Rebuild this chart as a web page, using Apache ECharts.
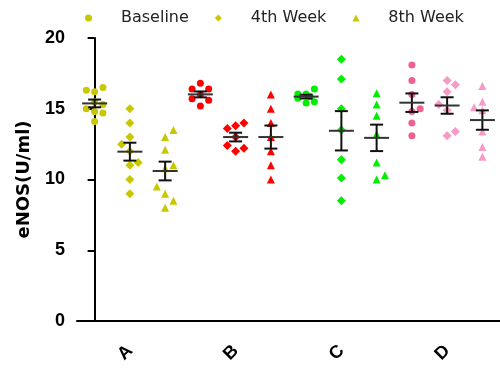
<!DOCTYPE html>
<html>
<head>
<meta charset="utf-8">
<script src="https://cdn.jsdelivr.net/npm/echarts@6/dist/echarts.min.js"></script>
<style>
  html, body { margin: 0; padding: 0; background: #fff; }
  #chart { width: 500px; height: 368px; }
</style>
</head>
<body>
<div id="chart"></div>
<script>
const groups = ["A", "B", "C", "D"];
const times = ["Baseline", "4th Week", "8th Week"];
const yTicks = [0, 5, 10, 15, 20];

// eNOS (U/ml) per animal; *Col = jitter column (-1 left, 0 centre, 1 right)
const aBaseline = [16.3, 16.2, 16.5, 15.5, 15.0, 14.8, 15.3, 14.7, 14.1];
const aBaselineCol = [-1, 0, 1, 0, -1, 0, 1, 1, 0];
const a4th = [15.0, 14.0, 13.0, 12.5, 12.0, 11.2, 11.0, 10.0, 9.0];
const a4thCol = [0, 0, 0, -1, 0, 1, 0, 0, 0];
const a8th = [13.5, 13.0, 12.1, 11.0, 10.8, 9.5, 9.0, 8.5, 8.0];
const a8thCol = [1, 0, 0, 1, 0, -1, 0, 1, 0];

const bBaseline = [16.8, 16.4, 16.4, 16.0, 15.7, 15.6, 15.2];
const bBaselineCol = [0, -1, 1, 0, -1, 1, 0];
const b4th = [14.0, 13.8, 13.6, 13.0, 12.4, 12.2, 12.0];
const b4thCol = [1, 0, -1, 0, -1, 1, 0];
const b8th = [16.0, 15.0, 14.0, 13.0, 12.0, 11.0, 10.0];
const b8thCol = [0, 0, 0, 0, 0, 0, 0];

const cBaseline = [16.4, 16.05, 16.05, 15.85, 15.75, 15.5, 15.4];
const cBaselineCol = [1, -1, 0, 0.5, -1, 1, 0];
const c4th = [18.5, 17.1, 15.0, 13.5, 11.4, 10.1, 8.5];
const c4thCol = [0, 0, 0, 0, 0, 0, 0];
const c8th = [16.1, 15.3, 14.5, 13.2, 11.2, 10.3, 10.0];
const c8thCol = [0, 0, 0, 0, 0, 1, 0];

const dBaseline = [18.1, 17.0, 16.0, 15.0, 14.8, 14.0, 13.1];
const dBaselineCol = [0, 0, 0, 1, 0, 0, 0];
const d4th = [17.0, 16.7, 16.2, 15.3, 14.9, 13.4, 13.1];
const d4thCol = [0, 1, 0, -1, 0, 1, 0];
const d8th = [16.6, 15.5, 15.1, 14.9, 13.4, 12.3, 11.6];
const d8thCol = [0, 0, -1, 0, 0, 0, 0];

const values = [
  [aBaseline, a4th, a8th],
  [bBaseline, b4th, b8th],
  [cBaseline, c4th, c8th],
  [dBaseline, d4th, d8th],
];
const cols = [
  [aBaselineCol, a4thCol, a8thCol],
  [bBaselineCol, b4thCol, b8thCol],
  [cBaselineCol, c4thCol, c8thCol],
  [dBaselineCol, d4thCol, d8thCol],
];
const colors = [
  ["#c8c800", "#c8c800", "#c8c800"],
  ["#ff0000", "#ff0000", "#ff0000"],
  ["#00ee00", "#00ee00", "#00ee00"],
  ["#f0628e", "#f79ac6", "#f79ac6"],
];
const symbols = ["circle", "diamond", "triangle"];
const symbolSizes = [7, 9, 8];
const jitter = 0.235;

const slots = groups.flatMap((g) => times.map(() => g));

function meanSem(arr) {
  const n = arr.length;
  const mean = arr.reduce((s, v) => s + v, 0) / n;
  const sd = Math.sqrt(arr.reduce((s, v) => s + (v - mean) ** 2, 0) / (n - 1));
  return [mean, sd / Math.sqrt(n)];
}

const scatterSeries = times.map((name, t) => ({
  name,
  type: "scatter",
  xAxisIndex: 1,
  symbol: symbols[t],
  symbolSize: symbolSizes[t],
  itemStyle: { color: colors[0][t], opacity: 1 },
  z: 2,
  data: groups.flatMap((g, gi) =>
    values[gi][t].map((v, k) => ({
      value: [gi * 3 + t + cols[gi][t][k] * jitter, v],
      itemStyle: { color: colors[gi][t] },
    }))
  ),
}));

const errorData = groups.flatMap((g, gi) =>
  times.map((name, t) => [gi * 3 + t, ...meanSem(values[gi][t])])
);

const errorSeries = {
  type: "custom",
  xAxisIndex: 1,
  z: 5,
  silent: true,
  data: errorData,
  renderItem(params, api) {
    const x = api.value(0);
    const mean = api.value(1);
    const sem = api.value(2);
    const c = api.coord([x, mean]);
    const hi = api.coord([x, mean + sem]);
    const lo = api.coord([x, mean - sem]);
    const stroke = { stroke: "#111", lineWidth: 2 };
    const line = (x1, y1, x2, y2, style) => ({ type: "line", shape: { x1, y1, x2, y2 }, style });
    return {
      type: "group",
      children: [
        line(c[0], hi[1], c[0], lo[1], stroke),
        line(c[0] - 6.5, hi[1], c[0] + 6.5, hi[1], stroke),
        line(c[0] - 6.5, lo[1], c[0] + 6.5, lo[1], stroke),
        line(c[0] - 12.5, c[1], c[0] + 12.5, c[1], { stroke: "#333", lineWidth: 2 }),
      ],
    };
  },
};

const chart = echarts.init(document.getElementById("chart"));
chart.setOption({
  animation: false,
  legend: {
    data: times.map((name, t) => ({ name, icon: symbols[t] })),
    left: 80,
    top: 5,
    itemWidth: 7,
    itemHeight: 7,
    itemGap: 26,
    textStyle: { fontFamily: "DejaVu Sans", fontSize: 16, color: "#222", width: 80, padding: [0, 0, 0, 24] },
  },
  grid: { left: 77, right: -2, top: 38, bottom: 47 },
  xAxis: [
    {
      type: "category",
      data: slots,
      axisLine: { lineStyle: { color: "#000", width: 2 } },
      axisTick: { alignWithLabel: true, length: 8, lineStyle: { color: "#000", width: 2 } },
      axisLabel: {
        rotate: 45,
        margin: 27,
        interval: 0,
        formatter: (v, i) => (i % 3 === 1 ? v : ""),
        fontFamily: "Arial",
        fontWeight: "bold",
        fontSize: 18,
        color: "#000",
      },
    },
    { type: "value", min: -0.5, max: 11.5, show: false },
  ],
  yAxis: {
    type: "value",
    min: yTicks[0],
    max: yTicks[yTicks.length - 1],
    interval: 5,
    name: "eNOS(U/ml)",
    nameLocation: "middle",
    nameGap: 44,
    nameTextStyle: { fontFamily: "DejaVu Sans", fontWeight: "bold", fontSize: 18, color: "#000" },
    axisLine: { show: true, lineStyle: { color: "#000", width: 2 } },
    axisTick: { show: true, length: 7, lineStyle: { color: "#000", width: 2 } },
    axisLabel: { margin: 12, fontFamily: "Arial", fontWeight: "bold", fontSize: 18, color: "#000" },
    splitLine: { show: false },
  },
  series: [...scatterSeries, errorSeries],
});
</script>
</body>
</html>
